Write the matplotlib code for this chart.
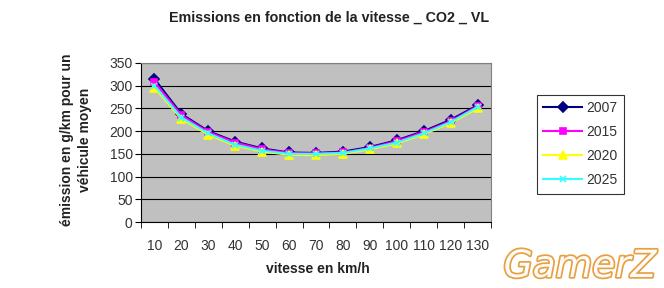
import matplotlib
matplotlib.use("Agg")
import matplotlib.pyplot as plt
import matplotlib.patheffects as pe
import numpy as np

plt.rcParams['font.family'] = ['Liberation Sans', 'DejaVu Sans']

speeds = [10, 20, 30, 40, 50, 60, 70, 80, 90, 100, 110, 120, 130]
co2_2007 = [315, 238, 200, 177, 162, 153, 152, 155, 165, 180, 200, 225, 257]
co2_2015 = [308, 235, 198, 175, 160, 152, 151, 153, 163, 178, 198, 222, 255]
co2_2020 = [296, 227, 192, 168, 155, 148, 147, 150, 160, 173, 193, 218, 250]
co2_2025 = [300, 230, 195, 170, 157, 150, 150, 152, 162, 175, 195, 220, 253]

series = [
    ("2007", co2_2007, "#000080", "D", 5),
    ("2015", co2_2015, "#ff00ff", "s", 5),
    ("2020", co2_2020, "#ffff00", "^", 6),
    ("2025", co2_2025, "#33ffff", "x", 5),
]

fig = plt.figure(figsize=(6.64, 2.88), dpi=100)
ax = fig.add_axes([141/664, 1 - 222/288, 350/664, 159/288])
ax.set_facecolor("#c0c0c0")

x = np.arange(len(speeds))
for name, vals, col, mk, ms in series:
    ax.plot(x, vals, color=col, lw=1.5, marker=mk, markersize=ms,
            markeredgewidth=1.2, label=name)

ax.set_xlim(-0.5, len(speeds) - 0.5)
ax.set_ylim(0, 350)
ax.set_yticks(range(0, 351, 50))
ax.set_xticks(x)
ax.set_xticklabels([str(s) for s in speeds])
ax.set_xticks(np.arange(-0.5, len(speeds), 1), minor=True)
ax.tick_params(axis='x', which='major', length=0, pad=12, labelsize=10, colors="#333333")
ax.tick_params(axis='x', which='minor', length=4, color="black")
ax.tick_params(axis='y', length=4, labelsize=10, colors="#333333", pad=2)
ax.tick_params(axis='y', color="black")
ax.grid(axis='y', color="black", lw=0.8)
ax.set_axisbelow(True)
for s in ['top', 'right']:
    ax.spines[s].set_color("#808080")
for s in ['left', 'bottom']:
    ax.spines[s].set_color("black")

fig.text(329/664, 1 - 18/288, "Emissions en fonction de la vitesse _ CO2 _ VL",
         ha='center', va='center', fontsize=10.3, fontweight='bold', color="#222222")
fig.text(318/664, 1 - 269/288, "vitesse en km/h", ha='center', va='center',
         fontsize=10, fontweight='bold', color="#222222")
fig.text(76/664, 1 - 140/288, "émission en g/km pour un\nvéhicule moyen", ha='center',
         va='center', rotation=90, fontsize=10, fontweight='bold', color="#222222",
         linespacing=1.4)

leg = ax.legend(loc='upper left', bbox_to_anchor=(537/664, 1 - 95/288),
                bbox_transform=fig.transFigure, frameon=True, fancybox=False,
                fontsize=10, handlelength=2.8, borderpad=0.45, labelspacing=0.72,
                handletextpad=0.3, borderaxespad=0, labelcolor="#333333")
leg.get_frame().set_edgecolor("black")
leg.get_frame().set_linewidth(0.8)

fig.text(580/664, 1 - 267/288, "GamerZ", ha='center', va='center', fontsize=27,
         style='italic', color="#fbfbfb", family='DejaVu Sans',
         path_effects=[pe.withStroke(linewidth=2.5, foreground="#e8a040")])

fig.savefig("out.png", dpi=100)
